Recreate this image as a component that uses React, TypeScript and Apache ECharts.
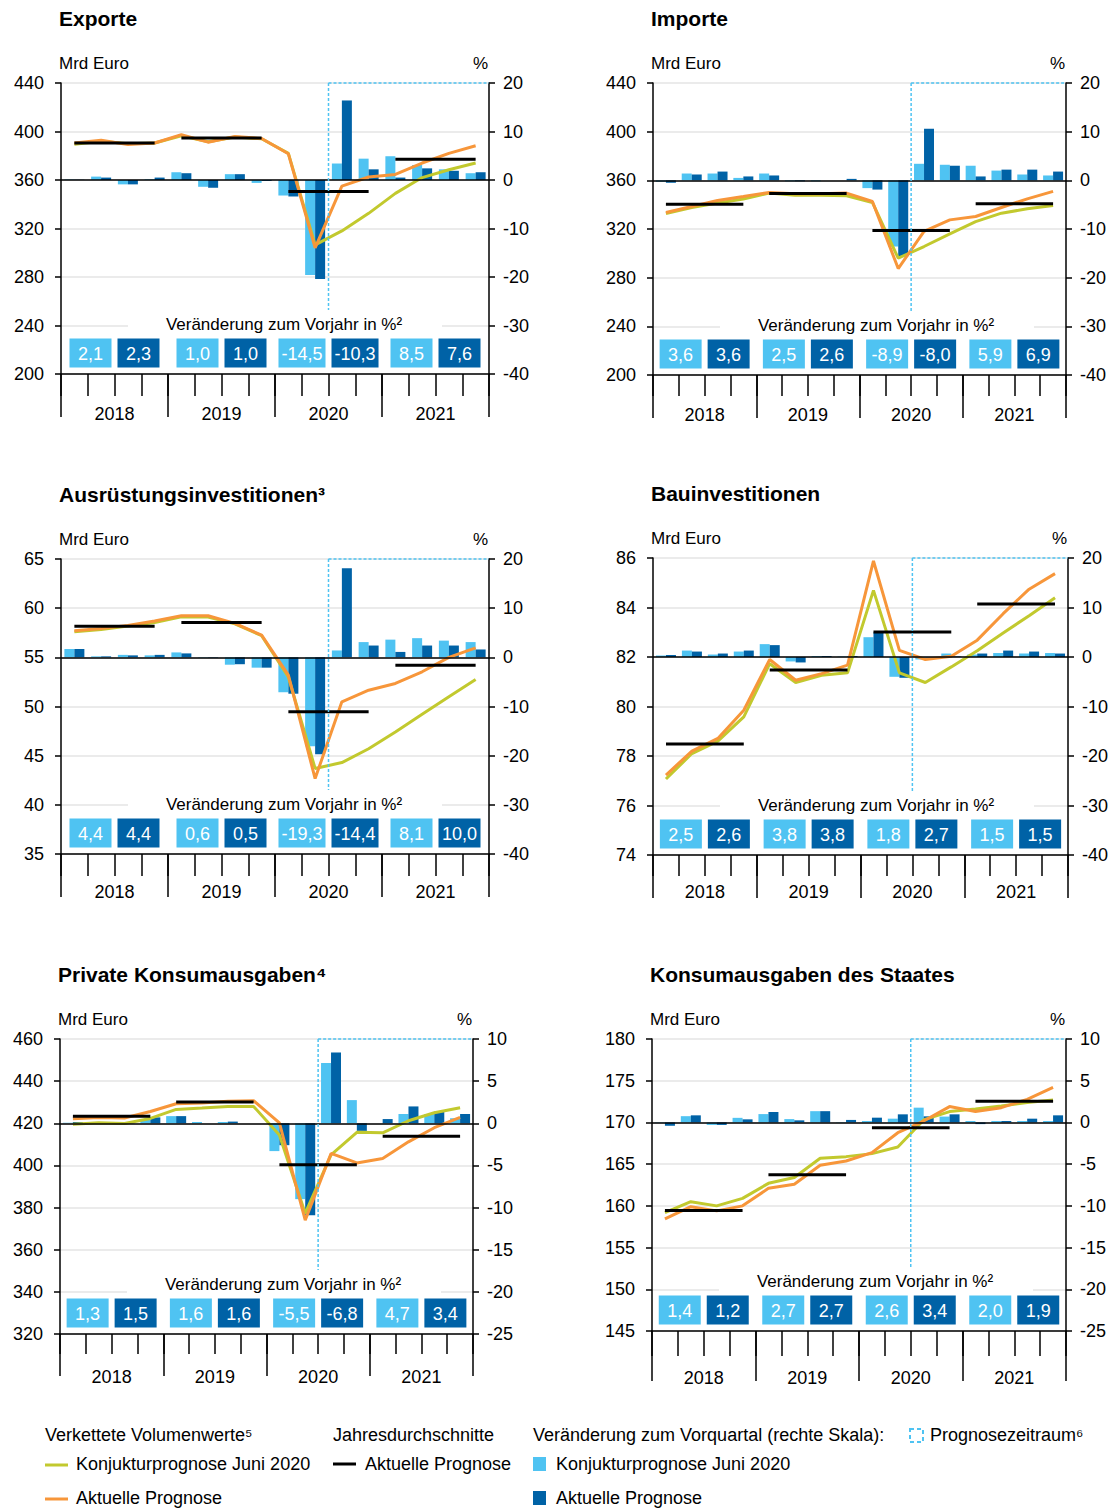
import React, { useEffect, useRef } from "react";
import * as echarts from "echarts";

const quarters = [
  "Q1 2018", "Q2 2018", "Q3 2018", "Q4 2018",
  "Q1 2019", "Q2 2019", "Q3 2019", "Q4 2019",
  "Q1 2020", "Q2 2020", "Q3 2020", "Q4 2020",
  "Q1 2021", "Q2 2021", "Q3 2021", "Q4 2021",
];
const years = ["2018", "2019", "2020", "2021"];
const forecastStart = "Q3 2020";

// Exporte
const exporteJuni = [389.5, 392, 390, 390.5, 396.5, 391.5, 395.5, 394, 382, 306.5, 318, 332.5, 349, 362, 368.5, 374];
const exporteAktuell = [390.5, 392.8, 389.2, 390.5, 397.3, 391.2, 395.8, 394.2, 381.6, 304, 355, 362.5, 364.6, 374, 382, 388.2];
const exporteVqJuni = [0.1, 0.7, -0.9, 0.15, 1.6, -1.4, 1.2, -0.6, -3.2, -19.6, 3.4, 4.4, 4.9, 3.1, 2.2, 1.4];
const exporteVqAktuell = [0.05, 0.5, -0.9, 0.5, 1.4, -1.6, 1.2, -0.2, -3.4, -20.4, 16.4, 2.2, 0.5, 2.4, 1.9, 1.6];
const exporteAvg = [390.6, 394.7, 350.6, 377.2];
const exporteVjJuni = [2.1, 1.0, -14.5, 8.5];
const exporteVjAktuell = [2.3, 1.0, -10.3, 7.6];
const exporteLeftScale = [200, 440, 40];
const exporteRightScale = [-40, 20, 10];

// Importe
const importeJuni = [332.8, 337.7, 341.3, 344.6, 349.5, 347.8, 347.8, 347.3, 341.8, 296, 305.6, 316, 326, 333, 336.6, 339.3];
const importeAktuell = [333.6, 338.5, 343.5, 346.7, 350, 349, 349, 349.5, 342.6, 287.5, 318, 327.5, 330.3, 337.7, 344.8, 350.9];
const importeVqJuni = [-0.3, 1.4, 1.4, 0.5, 1.4, -0.2, -0.2, 0, -1.6, -13.6, 3.4, 3.2, 3.0, 2.0, 1.2, 1.0];
const importeVqAktuell = [-0.5, 1.2, 1.8, 0.8, 1.0, -0.2, 0, 0.3, -1.9, -15.6, 10.6, 3.0, 0.8, 2.2, 2.2, 1.8];
const importeAvg = [340.4, 349.2, 318.8, 340.7];
const importeVjJuni = [3.6, 2.5, -8.9, 5.9];
const importeVjAktuell = [3.6, 2.6, -8.0, 6.9];
const importeLeftScale = [200, 440, 40];
const importeRightScale = [-40, 20, 10];

// Ausrüstungsinvestitionen
const ausrJuni = [57.6, 57.84, 58.18, 58.55, 59.13, 59.1, 58.4, 57.2, 53.0, 43.7, 44.3, 45.7, 47.4, 49.2, 51.0, 52.75];
const ausrAktuell = [57.7, 57.94, 58.25, 58.7, 59.23, 59.23, 58.45, 57.26, 53.19, 42.67, 50.48, 51.66, 52.34, 53.53, 55.0, 55.97];
const ausrVqJuni = [1.7, 0.2, 0.5, 0.4, 1.0, -0.1, -1.5, -2.1, -7.1, -18.1, 1.4, 3.1, 3.6, 3.9, 3.4, 3.1];
const ausrVqAktuell = [1.7, 0.2, 0.4, 0.5, 0.8, -0.1, -1.4, -2.1, -7.4, -19.7, 18.1, 2.4, 1.1, 2.4, 2.4, 1.6];
const ausrAvg = [58.15, 58.55, 49.46, 54.2];
const ausrVjJuni = [4.4, 0.6, -19.3, 8.1];
const ausrVjAktuell = [4.4, 0.5, -14.4, 10.0];
const ausrLeftScale = [35, 65, 5];
const ausrRightScale = [-40, 20, 10];

// Bauinvestitionen
const bauJuni = [77.07, 78.1, 78.6, 79.58, 81.73, 80.97, 81.26, 81.36, 84.69, 81.36, 80.97, 81.6, 82.25, 82.97, 83.67, 84.39];
const bauAktuell = [77.23, 78.2, 78.71, 79.85, 81.9, 81.06, 81.33, 81.67, 85.88, 82.27, 81.9, 82.03, 82.68, 83.75, 84.74, 85.37];
const bauVqJuni = [0.3, 1.3, 0.5, 1.1, 2.6, -0.9, 0.2, 0.1, 4.0, -4.0, -0.5, 0.7, 0.5, 0.8, 0.7, 0.8];
const bauVqAktuell = [0.4, 1.1, 0.7, 1.3, 2.4, -1.1, 0.2, 0.2, 5.0, -4.2, -0.1, 0.1, 0.7, 1.3, 1.1, 0.7];
const bauAvg = [78.48, 81.47, 83.01, 84.14];
const bauVjJuni = [2.5, 3.8, 1.8, 1.5];
const bauVjAktuell = [2.6, 3.8, 2.7, 1.5];
const bauLeftScale = [74, 86, 2];
const bauRightScale = [-40, 20, 10];

// Private Konsumausgaben
const privJuni = [419.5, 420.2, 419.9, 422.3, 426.6, 427.2, 428, 428, 414.4, 377.2, 405, 415.7, 415.5, 421.2, 425, 427.4];
const privAktuell = [422.2, 422.8, 422.5, 425.6, 429.3, 429.6, 430.5, 430.7, 420.2, 374, 405.7, 401.2, 403.3, 411.2, 417.9, 422.8];
const privVqJuni = [0.05, 0.02, 0.02, 0.5, 0.85, 0.15, 0.15, 0, -3.3, -9.0, 7.15, 2.75, 0, 1.1, 1.1, 0.6];
const privVqAktuell = [0.15, 0.02, 0.02, 0.7, 0.85, 0, 0.2, 0, -2.6, -10.9, 8.4, -0.9, 0.5, 2.0, 1.4, 1.1];
const privAvg = [423.3, 430.1, 400.3, 413.8];
const privVjJuni = [1.3, 1.6, -5.5, 4.7];
const privVjAktuell = [1.5, 1.6, -6.8, 3.4];
const privLeftScale = [320, 460, 20];
const privRightScale = [-25, 10, 5];

// Konsumausgaben des Staates
const staatJuni = [159.2, 160.5, 160.0, 160.9, 162.7, 163.4, 165.7, 165.9, 166.26, 167.06, 170.3, 171.3, 171.6, 171.97, 172.4, 172.7];
const staatAktuell = [158.43, 159.9, 159.4, 160.0, 162.1, 162.6, 164.86, 165.38, 166.38, 168.77, 170.17, 171.9, 171.3, 171.77, 172.77, 174.2];
const staatVqJuni = [0.05, 0.75, -0.3, 0.55, 1.0, 0.4, 1.35, 0.05, 0.17, 0.45, 1.77, 0.7, 0.17, 0.17, 0.17, 0.17];
const staatVqAktuell = [-0.4, 0.85, -0.3, 0.37, 1.25, 0.25, 1.35, 0.3, 0.57, 0.97, 0.73, 0.97, -0.2, 0.17, 0.45, 0.85];
const staatAvg = [159.43, 163.74, 169.37, 172.53];
const staatVjJuni = [1.4, 2.7, 2.6, 2.0];
const staatVjAktuell = [1.2, 2.7, 3.4, 1.9];
const staatLeftScale = [145, 180, 5];
const staatRightScale = [-25, 10, 5];

const panels = [
  { title: "Exporte", juni: exporteJuni, akt: exporteAktuell, vqJuni: exporteVqJuni, vqAkt: exporteVqAktuell, avg: exporteAvg, vjJuni: exporteVjJuni, vjAkt: exporteVjAktuell, ls: exporteLeftScale, rs: exporteRightScale },
  { title: "Importe", juni: importeJuni, akt: importeAktuell, vqJuni: importeVqJuni, vqAkt: importeVqAktuell, avg: importeAvg, vjJuni: importeVjJuni, vjAkt: importeVjAktuell, ls: importeLeftScale, rs: importeRightScale },
  { title: "Ausrüstungsinvestitionen³", juni: ausrJuni, akt: ausrAktuell, vqJuni: ausrVqJuni, vqAkt: ausrVqAktuell, avg: ausrAvg, vjJuni: ausrVjJuni, vjAkt: ausrVjAktuell, ls: ausrLeftScale, rs: ausrRightScale },
  { title: "Bauinvestitionen", juni: bauJuni, akt: bauAktuell, vqJuni: bauVqJuni, vqAkt: bauVqAktuell, avg: bauAvg, vjJuni: bauVjJuni, vjAkt: bauVjAktuell, ls: bauLeftScale, rs: bauRightScale },
  { title: "Private Konsumausgaben⁴", juni: privJuni, akt: privAktuell, vqJuni: privVqJuni, vqAkt: privVqAktuell, avg: privAvg, vjJuni: privVjJuni, vjAkt: privVjAktuell, ls: privLeftScale, rs: privRightScale },
  { title: "Konsumausgaben des Staates", juni: staatJuni, akt: staatAktuell, vqJuni: staatVqJuni, vqAkt: staatVqAktuell, avg: staatAvg, vjJuni: staatVjJuni, vjAkt: staatVjAktuell, ls: staatLeftScale, rs: staatRightScale },
];

const layouts = [
  { left: 61, top: 83, width: 428, height: 291, qt: 22, yt: 43, lm: 31 },
  { left: 653, top: 83, width: 413, height: 292, qt: 21, yt: 43, lm: 31 },
  { left: 61, top: 559, width: 428, height: 295, qt: 22, yt: 43, lm: 29 },
  { left: 653, top: 558, width: 415, height: 297, qt: 21, yt: 43, lm: 28 },
  { left: 60, top: 1039, width: 413, height: 295, qt: 20, yt: 42, lm: 34 },
  { left: 652, top: 1039, width: 414, height: 292, qt: 25, yt: 50, lm: 38 },
];

const FONT = "'Liberation Sans', Arial, sans-serif";
const LIGHT = "#4FC3F2";
const DARK = "#0062A6";
const GREEN = "#C2C92E";
const ORANGE = "#F7963A";
const GRID = "#EBEBEB";

const fmt = (v: number) => v.toFixed(1).replace(".", ",");
const textW = (s: string, size: number) => {
  let w = 0;
  for (const ch of s) {
    if (ch >= "0" && ch <= "9") w += 0.556;
    else if (ch === ",") w += 0.278;
    else if (ch === "-") w += 0.333;
    else w += 0.55;
  }
  return w * size;
};

function txt(x: number, y: number, text: string, size: number, align: string, opts: any = {}) {
  return {
    type: "text",
    x,
    y,
    z: 110,
    silent: true,
    style: {
      text,
      font: `${opts.bold ? "bold " : ""}${size}px ${FONT}`,
      fill: opts.fill || "#000",
      textAlign: align,
      textVerticalAlign: "middle",
      align,
      verticalAlign: "middle",
    },
  };
}

export default function App() {
  const ref = useRef<HTMLDivElement>(null);
  useEffect(() => {
    document.body.style.margin = "0";
    if (!ref.current) return;
    const chart = echarts.init(ref.current, undefined, { renderer: "svg" });

    const grid: any[] = [];
    const xAxis: any[] = [];
    const yAxis: any[] = [];
    const series: any[] = [];
    const axisLabelBase = { fontSize: 18, color: "#000", fontFamily: FONT };

    panels.forEach((p, i) => {
      const L = layouts[i];
      grid.push({ left: L.left, top: L.top, width: L.width, height: L.height, containLabel: false, outerBoundsMode: "none" });
      xAxis.push({
        type: "category", gridIndex: i, data: quarters, position: "bottom", boundaryGap: true,
        axisLine: { show: true, onZero: false, lineStyle: { color: "#000", width: 1.5 } },
        axisTick: { show: true, length: L.qt, interval: 0, lineStyle: { color: "#000", width: 1.5 } },
        axisLabel: { show: false }, splitLine: { show: false },
      });
      xAxis.push({
        type: "category", gridIndex: i, data: years, position: "bottom", boundaryGap: true,
        axisLine: { show: false, onZero: false },
        axisTick: { show: true, length: L.yt, interval: 0, lineStyle: { color: "#000", width: 1.5 } },
        axisLabel: { ...axisLabelBase, margin: L.lm, interval: 0 }, splitLine: { show: false },
      });
      yAxis.push({
        type: "value", gridIndex: i, position: "left", min: p.ls[0], max: p.ls[1], interval: p.ls[2],
        axisLine: { show: true, lineStyle: { color: "#000", width: 1.5 } },
        axisTick: { show: true, length: 6, lineStyle: { color: "#000", width: 1.5 } },
        axisLabel: { ...axisLabelBase, margin: 17 },
        splitLine: { show: true, lineStyle: { color: GRID, width: 2 } },
      });
      yAxis.push({
        type: "value", gridIndex: i, position: "right", min: p.rs[0], max: p.rs[1], interval: p.rs[2],
        axisLine: { show: true, lineStyle: { color: "#000", width: 1.5 } },
        axisTick: { show: true, length: 6, lineStyle: { color: "#000", width: 1.5 } },
        axisLabel: { ...axisLabelBase, margin: 14 },
        splitLine: { show: false },
      });
      series.push({
        type: "bar", name: "Vq Juni", xAxisIndex: 2 * i, yAxisIndex: 2 * i + 1, data: p.vqJuni,
        barWidth: 10, barGap: "0%", itemStyle: { color: LIGHT }, z: 2,
      });
      series.push({
        type: "bar", name: "Vq Aktuell", xAxisIndex: 2 * i, yAxisIndex: 2 * i + 1, data: p.vqAkt,
        barWidth: 10, barGap: "0%", itemStyle: { color: DARK }, z: 2,
        markLine: {
          silent: true, symbol: ["none", "none"], label: { show: false },
          lineStyle: { color: "#000", width: 1.5, type: "solid" }, data: [{ yAxis: 0 }],
        },
      });
      series.push({
        type: "line", name: "Juni", xAxisIndex: 2 * i, yAxisIndex: 2 * i, data: p.juni,
        symbol: "none", showSymbol: false, lineStyle: { color: GREEN, width: 3 }, z: 3,
      });
      series.push({
        type: "line", name: "Aktuell", xAxisIndex: 2 * i, yAxisIndex: 2 * i, data: p.akt,
        symbol: "none", showSymbol: false, lineStyle: { color: ORANGE, width: 3 }, z: 4,
      });
      years.forEach((_, j) => {
        series.push({
          type: "line", name: "Avg", xAxisIndex: 2 * i, yAxisIndex: 2 * i,
          data: quarters.map((_, k) => (Math.floor(k / 4) === j ? p.avg[j] : "-")),
          symbol: "none", showSymbol: false, lineStyle: { color: "#000", width: 3 }, z: 5,
        });
      });
    });

    chart.setOption({
      animation: false,
      backgroundColor: "#fff",
      textStyle: { fontFamily: FONT },
      grid, xAxis, yAxis, series,
    });

    const els: any[] = [];
    const fi = quarters.indexOf(forecastStart);
    panels.forEach((p, i) => {
      const L = layouts[i];
      const bottom = L.top + L.height;
      const right = L.left + L.width;
      els.push(txt(L.left - 2, L.top - 65, p.title, 21, "left", { bold: true }));
      els.push(txt(L.left - 2, L.top - 20, "Mrd Euro", 17, "left"));
      els.push(txt(right - 1, L.top - 20, "%", 17, "right"));
      const x0 = chart.convertToPixel({ xAxisIndex: 2 * i }, fi - 1) as number;
      const x1 = chart.convertToPixel({ xAxisIndex: 2 * i }, fi) as number;
      const bx = (x0 + x1) / 2;
      const dash = { stroke: LIGHT, lineWidth: 1.5, lineDash: [3, 2] };
      els.push({ type: "line", z: 105, silent: true, shape: { x1: bx, y1: L.top, x2: bx, y2: bottom - 64 }, style: dash });
      els.push({ type: "line", z: 105, silent: true, shape: { x1: bx, y1: L.top, x2: right, y2: L.top }, style: dash });
      els.push({ type: "rect", z: 106, silent: true, shape: { x: L.left + 67, y: bottom - 61, width: 314, height: 22 }, style: { fill: "#fff" } });
      els.push(txt(L.left + 223, bottom - 50, "Veränderung zum Vorjahr in %²", 17, "center"));
      years.forEach((_, j) => {
        const c = chart.convertToPixel({ xAxisIndex: 2 * i + 1 }, j) as number;
        const sJ = fmt(p.vjJuni[j]);
        const sA = fmt(p.vjAkt[j]);
        const wJ = Math.max(42, textW(sJ, 18) + 6);
        const wA = Math.max(42, textW(sA, 18) + 6);
        const by = bottom - 35.5;
        els.push({ type: "rect", z: 107, silent: true, shape: { x: c - 3 - wJ, y: by, width: wJ, height: 29 }, style: { fill: LIGHT } });
        els.push({ type: "rect", z: 107, silent: true, shape: { x: c + 3, y: by, width: wA, height: 29 }, style: { fill: DARK } });
        els.push(txt(c - 3 - wJ / 2, by + 15, sJ, 18, "center", { fill: "#fff" }));
        els.push(txt(c + 3 + wA / 2, by + 15, sA, 18, "center", { fill: "#fff" }));
      });
    });

    // Legend
    els.push(txt(45, 1435, "Verkettete Volumenwerte⁵", 18, "left"));
    els.push(txt(333, 1435, "Jahresdurchschnitte", 18, "left"));
    els.push(txt(533, 1435, "Veränderung zum Vorquartal (rechte Skala):", 18, "left"));
    els.push({ type: "rect", z: 105, silent: true, shape: { x: 910, y: 1429, width: 13, height: 13 }, style: { fill: "none", stroke: LIGHT, lineWidth: 2, lineDash: [4, 3] } });
    els.push(txt(930, 1435, "Prognosezeitraum⁶", 18, "left"));
    els.push({ type: "line", z: 105, silent: true, shape: { x1: 45, y1: 1465, x2: 68, y2: 1465 }, style: { stroke: GREEN, lineWidth: 3 } });
    els.push(txt(76, 1464, "Konjukturprognose Juni 2020", 18, "left"));
    els.push({ type: "line", z: 105, silent: true, shape: { x1: 333, y1: 1464, x2: 356, y2: 1464 }, style: { stroke: "#000", lineWidth: 3 } });
    els.push(txt(365, 1464, "Aktuelle Prognose", 18, "left"));
    els.push({ type: "rect", z: 105, silent: true, shape: { x: 533, y: 1457, width: 13, height: 14 }, style: { fill: LIGHT } });
    els.push(txt(556, 1464, "Konjukturprognose Juni 2020", 18, "left"));
    els.push({ type: "line", z: 105, silent: true, shape: { x1: 45, y1: 1499, x2: 68, y2: 1499 }, style: { stroke: ORANGE, lineWidth: 3 } });
    els.push(txt(76, 1498, "Aktuelle Prognose", 18, "left"));
    els.push({ type: "rect", z: 105, silent: true, shape: { x: 533, y: 1491, width: 13, height: 14 }, style: { fill: DARK } });
    els.push(txt(556, 1498, "Aktuelle Prognose", 18, "left"));

    chart.setOption({ graphic: { elements: els } });

    return () => chart.dispose();
  }, []);
  return <div ref={ref} style={{ width: 1115, height: 1508 }} />;
}
